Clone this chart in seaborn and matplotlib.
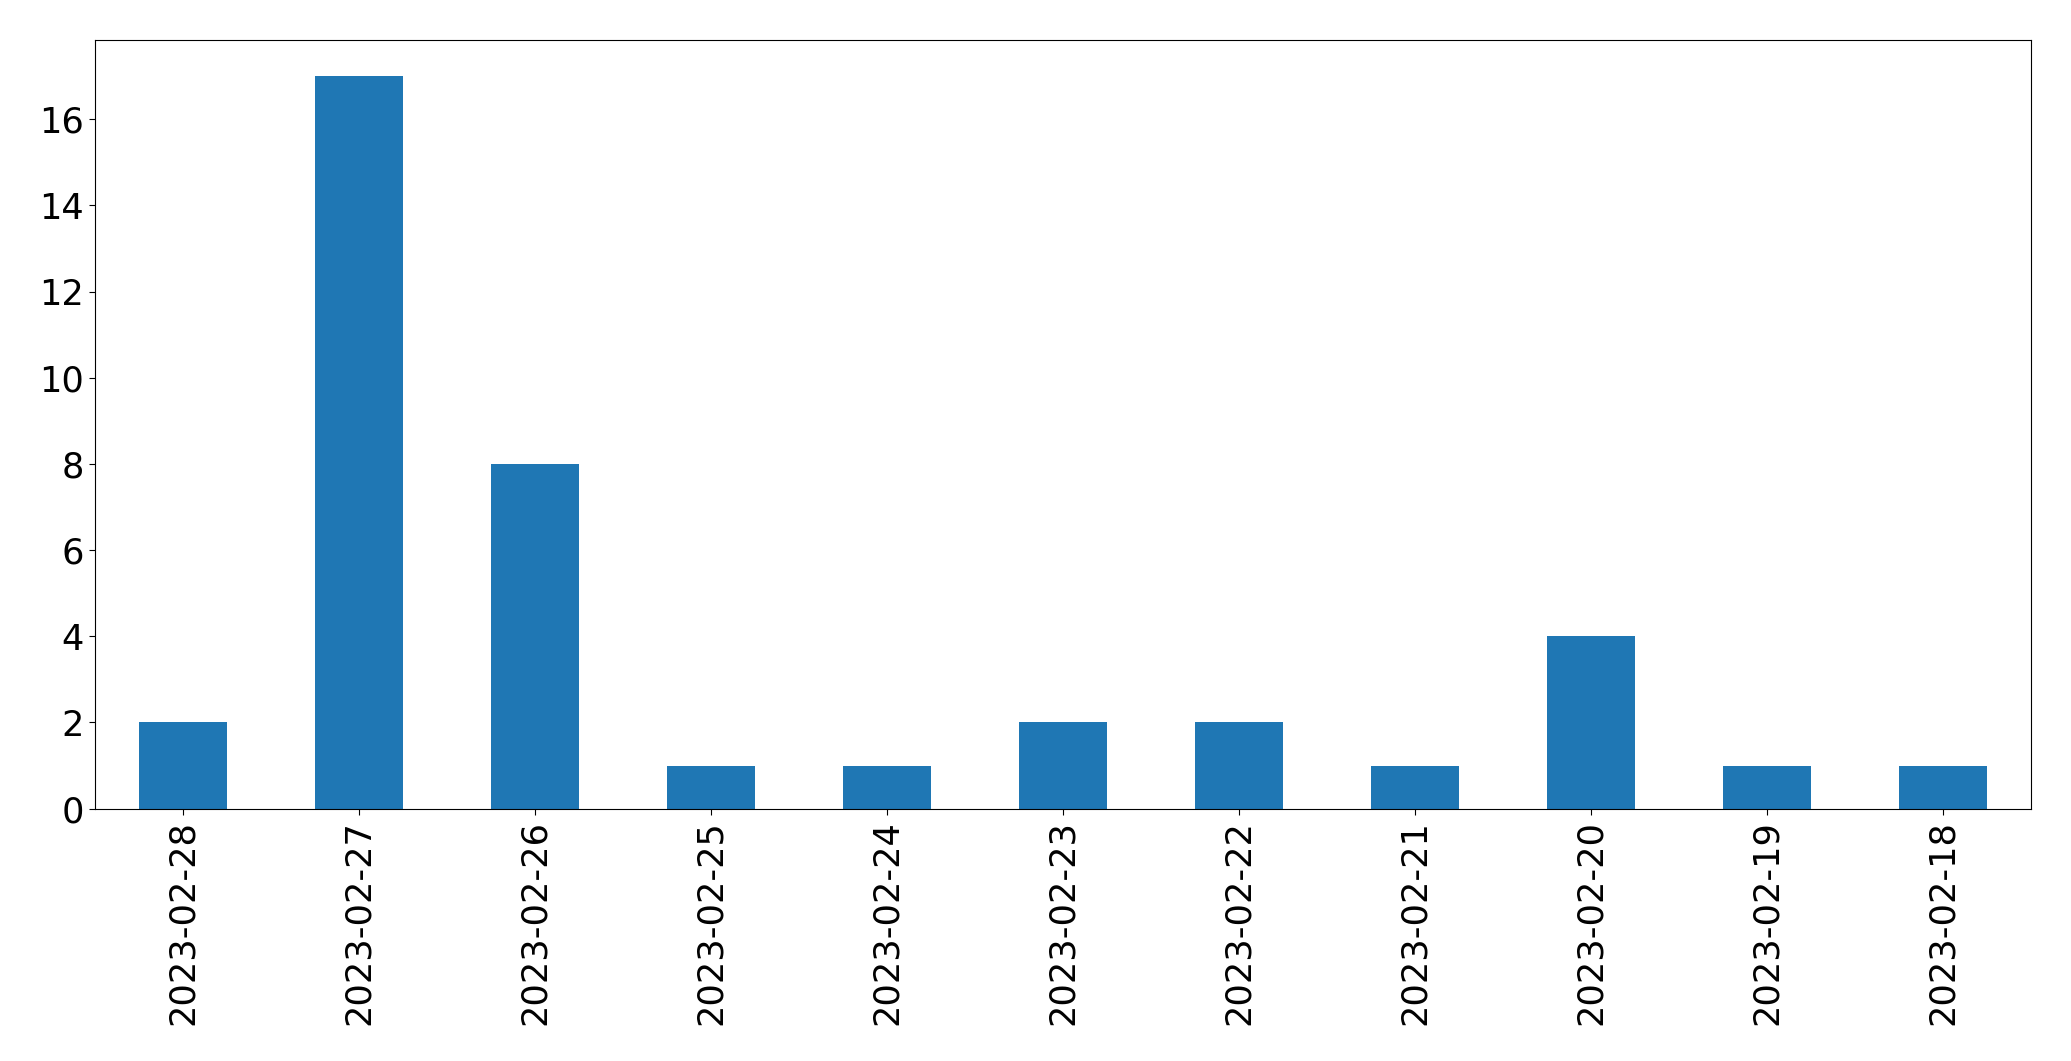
import matplotlib
matplotlib.use("Agg")
import matplotlib.pyplot as plt
import seaborn as sns
import pandas as pd

# Counts per day
dates = ["2023-02-28", "2023-02-27", "2023-02-26", "2023-02-25", "2023-02-24",
         "2023-02-23", "2023-02-22", "2023-02-21", "2023-02-20", "2023-02-19",
         "2023-02-18"]
counts = [2, 17, 8, 1, 1, 2, 2, 1, 4, 1, 1]

df = pd.DataFrame({"date": dates, "count": counts})

fig, ax = plt.subplots(figsize=(20.71, 10.61), dpi=100)
fig.subplots_adjust(left=0.0459, right=0.9807, top=0.9627, bottom=0.2379)

sns.barplot(data=df, x="date", y="count", order=dates, color="#1f77b4",
            saturation=1, width=0.5, ax=ax)

ax.set_xlim(-0.5, len(dates) - 0.5)
ax.set_ylim(0, max(counts) * 1.05)
ax.set_xlabel("")
ax.set_ylabel("")
ax.tick_params(axis="both", labelsize=25.3, length=4.5)
ax.tick_params(axis="x", labelrotation=90)

plt.savefig("out.png", dpi=100)
plt.close()
